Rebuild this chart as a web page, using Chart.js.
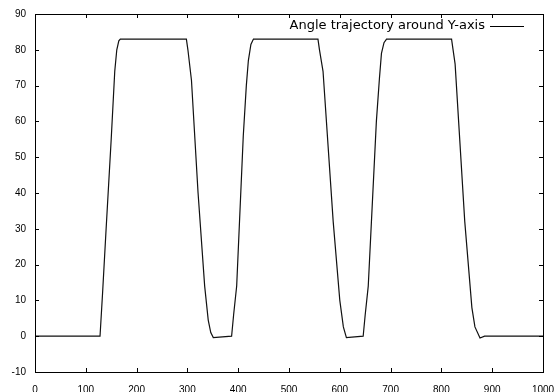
<!DOCTYPE html>
<html>
<head>
<meta charset="utf-8">
<script src="https://cdn.jsdelivr.net/npm/chart.js@4.4.1/dist/chart.umd.min.js"></script>
<style>
  html, body { margin: 0; padding: 0; background: #fff; }
</style>
</head>
<body>
<canvas id="winkelChart" width="555" height="392"></canvas>
<script>
// ========================================
// WINKELVERLAUF UM DIE Y-ACHSE
// ========================================

// Messpunkte
const zeitX = [
    0, 128, 133, 140, 150, 157, 161, 165, 168,
    298, 301, 308, 321, 334, 341, 346, 351,
    387, 391, 397, 410, 416, 420, 425, 430,
    557, 560, 567, 587, 600, 607, 613,
    646, 650, 656, 672, 678, 682, 687, 692,
    820, 823, 827, 846, 860, 866, 876, 885, 1000
];
const winkelY = [
    0, 0, 12, 30, 55, 74, 80, 82.5, 83,
    83, 80, 71.5, 40, 14, 4.5, 1, -0.4,
    0, 6, 14, 56, 70, 77, 81.5, 83,
    83, 80, 74, 32, 10, 2.6, -0.4,
    0, 6, 14, 60, 72, 79, 82, 83,
    83, 80, 76, 32, 8, 2.6, -0.5, 0, 0
];

// Achsenbeschriftung
const xTicks = [0, 100, 200, 300, 400, 500, 600, 700, 800, 900, 1000];
const yTicks = [-10, 0, 10, 20, 30, 40, 50, 60, 70, 80, 90];
const serieLabel = 'Angle trajectory around Y-axis';

const punkte = zeitX.map((x, i) => ({ x: x, y: winkelY[i] }));

// Rahmen, Innen-Ticks und Legende im gnuplot-Stil
const rahmenPlugin = {
    id: 'rahmen',
    afterDraw(chart) {
        const { ctx, chartArea: a, scales } = chart;
        const tl = 4;
        ctx.save();
        ctx.strokeStyle = '#000';
        ctx.lineWidth = 1;
        ctx.strokeRect(a.left + 0.5, a.top + 0.5, a.right - a.left, a.bottom - a.top);

        ctx.beginPath();
        xTicks.forEach(v => {
            const px = Math.round(scales.x.getPixelForValue(v)) + 0.5;
            ctx.moveTo(px, a.bottom);
            ctx.lineTo(px, a.bottom - tl);
            ctx.moveTo(px, a.top);
            ctx.lineTo(px, a.top + tl);
        });
        yTicks.forEach(v => {
            const py = Math.round(scales.y.getPixelForValue(v)) + 0.5;
            ctx.moveTo(a.left, py);
            ctx.lineTo(a.left + tl, py);
            ctx.moveTo(a.right, py);
            ctx.lineTo(a.right - tl, py);
        });
        ctx.stroke();

        // Legende: Text rechtsbündig, danach Linienmuster
        const ly = a.top + 12;
        const lineRight = a.right - 19;
        const lineLeft = lineRight - 34;
        ctx.font = '13px "DejaVu Sans", sans-serif';
        ctx.fillStyle = '#000';
        ctx.textAlign = 'right';
        ctx.textBaseline = 'middle';
        ctx.fillText(chart.data.datasets[0].label, lineLeft - 5, ly);
        ctx.beginPath();
        ctx.moveTo(lineLeft, ly + 0.5);
        ctx.lineTo(lineRight, ly + 0.5);
        ctx.stroke();
        ctx.restore();
    }
};

const tickFont = { family: '"Liberation Sans", Arial, sans-serif', size: 10 };

const winkelChart = new Chart(document.getElementById('winkelChart'), {
    type: 'line',
    data: {
        datasets: [{
            label: serieLabel,
            data: punkte,
            borderColor: '#111',
            borderWidth: 1.2,
            pointRadius: 0,
            tension: 0,
            fill: false
        }]
    },
    options: {
        responsive: false,
        animation: false,
        layout: { padding: { top: 14, right: 12, left: 0, bottom: 0 } },
        plugins: {
            legend: { display: false },
            tooltip: { enabled: false }
        },
        scales: {
            x: {
                type: 'linear',
                min: 0,
                max: 1000,
                afterBuildTicks: scale => { scale.ticks = xTicks.map(v => ({ value: v })); },
                afterFit: scale => {
                    scale.height = 20;
                    scale.paddingLeft = 0;
                    scale.paddingRight = 0;
                },
                grid: { display: false, drawTicks: false },
                border: { display: false },
                ticks: { color: '#000', font: tickFont, padding: 12, maxRotation: 0, autoSkip: false,
                         callback: v => String(v) }
            },
            y: {
                min: -10,
                max: 90,
                afterBuildTicks: scale => { scale.ticks = yTicks.map(v => ({ value: v })); },
                afterFit: scale => {
                    scale.width = 35;
                    scale.paddingTop = 0;
                    scale.paddingBottom = 0;
                },
                grid: { display: false, drawTicks: false },
                border: { display: false },
                ticks: { color: '#000', font: tickFont, padding: 9, autoSkip: false,
                         callback: v => String(v) }
            }
        }
    },
    plugins: [rahmenPlugin]
});
</script>
</body>
</html>
